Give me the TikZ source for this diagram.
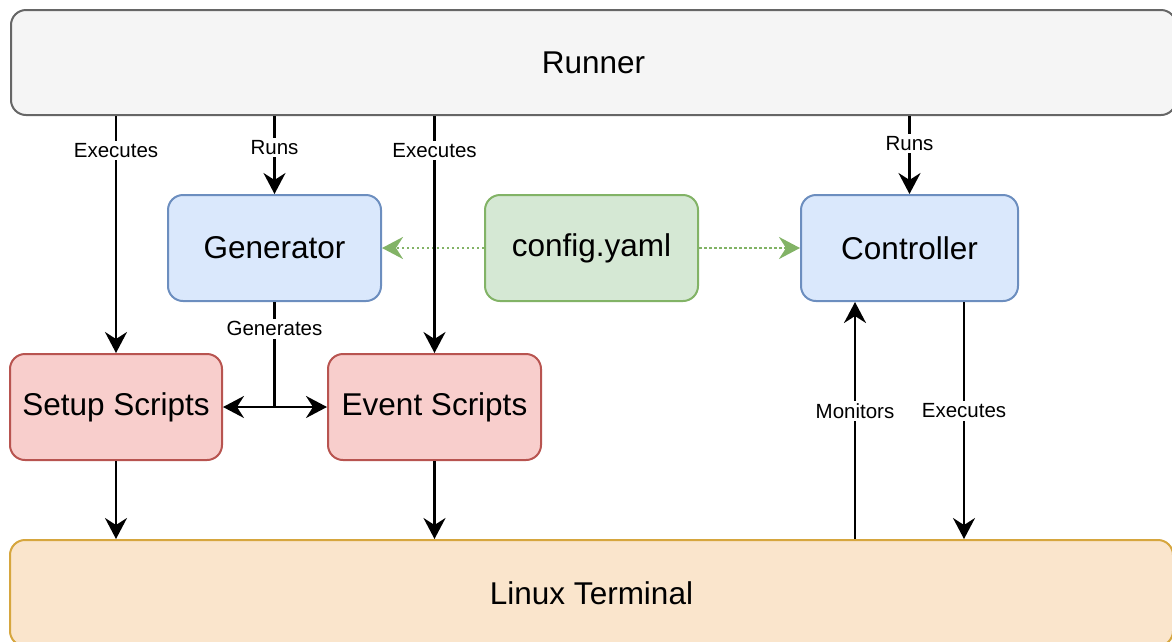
\documentclass[tikz,border=0pt]{standalone}
\usepackage{fontspec}
\setmainfont{Liberation Sans}
\usetikzlibrary{arrows.meta,calc}

\definecolor{runfill}{HTML}{F5F5F5}
\definecolor{rundraw}{HTML}{666666}
\definecolor{bluefill}{HTML}{DAE8FC}
\definecolor{bluedraw}{HTML}{6C8EBF}
\definecolor{greenfill}{HTML}{D5E8D4}
\definecolor{greendraw}{HTML}{82B366}
\definecolor{redfill}{HTML}{F8CECC}
\definecolor{reddraw}{HTML}{B85450}
\definecolor{orangefill}{HTML}{FAE5CC}
\definecolor{orangedraw}{HTML}{D6A63E}

\tikzset{
  box/.style={draw, line width=2pt, rounded corners=15pt, minimum width=213pt,
    minimum height=106pt, inner sep=0pt, font=\fontsize{31.5}{36}\selectfont},
  bluebox/.style={box, fill=bluefill, draw=bluedraw},
  greenbox/.style={box, fill=greenfill, draw=greendraw},
  redbox/.style={box, fill=redfill, draw=reddraw},
  arr/.style={line width=2.4pt, -{Stealth[length=21pt,width=22pt,inset=7pt]}},
  cfgarr/.style={line width=2.5pt, draw=greendraw, dash pattern=on 2.5pt off 2.5pt,
    -{Stealth[length=21pt,width=22pt,inset=7pt,sep=0pt]}},
  lbl/.style={fill=white, inner sep=2.5pt, font=\fontsize{20.5}{24}\selectfont}
}

\begin{document}
\begin{tikzpicture}[x=1pt,y=-1pt]
\useasboundingbox (0,0) rectangle (1172,641);

% wide frames
\node[box, fill=runfill, draw=rundraw, minimum width=1165pt, minimum height=105pt]
  (runner) at (593.5,62.5) {Runner};
\node[box, fill=orangefill, draw=orangedraw, minimum width=1163pt, minimum height=106pt]
  (term) at (591.5,593) {Linux Terminal};

% components
\node[bluebox] (gen) at (274.5,248) {Generator};
\node[greenbox] (cfg) at (591.5,248) {config.yaml};
\node[bluebox, minimum width=217pt] (ctrl) at (909.5,248) {Controller};
\node[redbox, minimum width=212pt] (setup) at (116,407) {Setup Scripts};
\node[redbox] (event) at (434.5,407) {Event Scripts};

% configuration feeds
\draw[cfgarr] (cfg.west) -- (gen.east);
\draw[cfgarr] (cfg.east) -- (ctrl.west);

% runner connections
\draw[arr] (runner.south -| setup.north) -- node[lbl, pos=0.146] {Executes} (setup.north);
\draw[arr] (runner.south -| gen.north) -- node[lbl, pos=0.4] {Runs} (gen.north);
\draw[arr] (runner.south -| event.north) -- node[lbl, pos=0.146] {Executes} (event.north);
\draw[arr] (runner.south -| ctrl.north) -- node[lbl, pos=0.35] {Runs} (ctrl.north);

% generator output
\coordinate (split) at (gen.south |- setup.east);
\draw[line width=2.4pt] (gen.south) -- node[lbl, pos=0.255] {Generates} (split);
\draw[arr] (split) -- (setup.east);
\draw[arr] (split) -- (event.west);

% scripts to terminal
\draw[arr] (setup.south) -- (setup.south |- term.north);
\draw[arr] (event.south) -- (event.south |- term.north);

% controller and terminal
\draw[arr] ([xshift=-54.5pt]ctrl.south |- term.north) -- node[lbl, pos=0.54] {Monitors} ([xshift=-54.5pt]ctrl.south);
\draw[arr] ([xshift=54.5pt]ctrl.south) -- node[lbl, pos=0.46] {Executes} ([xshift=54.5pt]ctrl.south |- term.north);
\end{tikzpicture}
\end{document}
